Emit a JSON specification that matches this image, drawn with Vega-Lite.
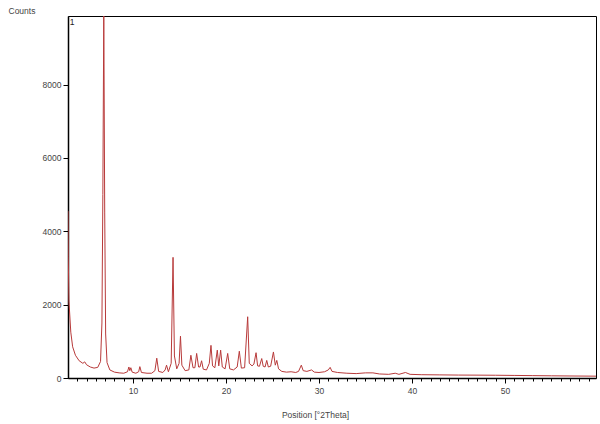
{
  "$schema": "https://vega.github.io/schema/vega-lite/v6.json",
  "width": 528,
  "height": 362,
  "autosize": {"type": "none"},
  "padding": {"left": 68, "top": 16, "right": 4, "bottom": 46},
  "background": "white",
  "config": {
    "view": {"stroke": "#000", "strokeWidth": 1},
    "font": "Liberation Sans",
    "axis": {"labelFont": "Liberation Sans", "titleFont": "Liberation Sans", "labelFontSize": 8.5, "titleFontSize": 8.5, "labelColor": "#444", "titleColor": "#444", "titleFontWeight": "normal", "domainColor": "#000", "tickColor": "#000", "grid": false}
  },
  "datasets": {
    "xrd": [
      {"t": 3.0, "c": 4550}, {"t": 3.03, "c": 3300}, {"t": 3.1, "c": 2100}, {"t": 3.3, "c": 1250},
      {"t": 3.5, "c": 850}, {"t": 3.8, "c": 620}, {"t": 4.2, "c": 470}, {"t": 4.6, "c": 400},
      {"t": 4.8, "c": 440}, {"t": 5.0, "c": 360}, {"t": 5.4, "c": 300}, {"t": 5.8, "c": 270},
      {"t": 6.2, "c": 290}, {"t": 6.5, "c": 450}, {"t": 6.65, "c": 1500}, {"t": 6.75, "c": 5000},
      {"t": 6.85, "c": 9950}, {"t": 6.95, "c": 4500}, {"t": 7.05, "c": 1200}, {"t": 7.2, "c": 420},
      {"t": 7.5, "c": 220}, {"t": 8.0, "c": 160}, {"t": 8.5, "c": 140}, {"t": 9.0, "c": 130},
      {"t": 9.4, "c": 170}, {"t": 9.55, "c": 300}, {"t": 9.65, "c": 200}, {"t": 9.76, "c": 280},
      {"t": 9.9, "c": 160}, {"t": 10.3, "c": 130}, {"t": 10.6, "c": 170}, {"t": 10.73, "c": 310},
      {"t": 10.9, "c": 150}, {"t": 11.5, "c": 130}, {"t": 12.0, "c": 130}, {"t": 12.35, "c": 200},
      {"t": 12.55, "c": 540}, {"t": 12.75, "c": 180}, {"t": 13.2, "c": 150}, {"t": 13.45, "c": 220},
      {"t": 13.6, "c": 350}, {"t": 13.8, "c": 170}, {"t": 14.1, "c": 400}, {"t": 14.3, "c": 3290},
      {"t": 14.45, "c": 600}, {"t": 14.7, "c": 250}, {"t": 14.95, "c": 400}, {"t": 15.1, "c": 1140},
      {"t": 15.25, "c": 350}, {"t": 15.6, "c": 200}, {"t": 16.0, "c": 220}, {"t": 16.22, "c": 620},
      {"t": 16.45, "c": 280}, {"t": 16.65, "c": 280}, {"t": 16.84, "c": 670}, {"t": 17.05, "c": 300},
      {"t": 17.2, "c": 300}, {"t": 17.37, "c": 470}, {"t": 17.55, "c": 240}, {"t": 17.9, "c": 220},
      {"t": 18.2, "c": 400}, {"t": 18.38, "c": 890}, {"t": 18.55, "c": 330}, {"t": 18.8, "c": 280},
      {"t": 19.06, "c": 760}, {"t": 19.22, "c": 330}, {"t": 19.42, "c": 760}, {"t": 19.6, "c": 300},
      {"t": 19.9, "c": 250}, {"t": 20.18, "c": 670}, {"t": 20.4, "c": 250}, {"t": 20.8, "c": 220},
      {"t": 21.2, "c": 300}, {"t": 21.43, "c": 730}, {"t": 21.65, "c": 270}, {"t": 22.0, "c": 280},
      {"t": 22.33, "c": 1670}, {"t": 22.5, "c": 400}, {"t": 22.8, "c": 330}, {"t": 23.0, "c": 380},
      {"t": 23.23, "c": 690}, {"t": 23.4, "c": 330}, {"t": 23.6, "c": 320}, {"t": 23.84, "c": 530},
      {"t": 24.0, "c": 320}, {"t": 24.2, "c": 300}, {"t": 24.38, "c": 480}, {"t": 24.55, "c": 300},
      {"t": 24.8, "c": 320}, {"t": 25.1, "c": 710}, {"t": 25.3, "c": 350}, {"t": 25.46, "c": 480},
      {"t": 25.65, "c": 250}, {"t": 26.0, "c": 180}, {"t": 26.5, "c": 160}, {"t": 27.0, "c": 170},
      {"t": 27.5, "c": 150}, {"t": 27.8, "c": 180}, {"t": 28.1, "c": 350}, {"t": 28.3, "c": 200},
      {"t": 28.7, "c": 180}, {"t": 29.2, "c": 220}, {"t": 29.5, "c": 160}, {"t": 30.0, "c": 150},
      {"t": 30.6, "c": 170}, {"t": 31.0, "c": 220}, {"t": 31.2, "c": 290}, {"t": 31.4, "c": 180},
      {"t": 32.0, "c": 150}, {"t": 33.0, "c": 130}, {"t": 34.0, "c": 120}, {"t": 35.0, "c": 140},
      {"t": 35.8, "c": 140}, {"t": 36.5, "c": 110}, {"t": 37.5, "c": 100}, {"t": 38.2, "c": 130},
      {"t": 38.6, "c": 100}, {"t": 39.3, "c": 150}, {"t": 39.8, "c": 100}, {"t": 41.0, "c": 90},
      {"t": 43.0, "c": 85}, {"t": 45.0, "c": 80}, {"t": 47.0, "c": 78}, {"t": 49.0, "c": 75},
      {"t": 51.0, "c": 70}, {"t": 53.0, "c": 65}, {"t": 55.0, "c": 60}, {"t": 57.0, "c": 55},
      {"t": 59.8, "c": 50}
    ],
    "tag": [{"t": 3.2, "c": 9870, "label": "1"}]
  },
  "layer": [
    {
      "data": {"name": "xrd"},
      "mark": {"type": "line", "color": "#b83a3a", "strokeWidth": 1, "clip": true},
      "encoding": {
        "x": {"field": "t", "type": "quantitative", "scale": {"domain": [3, 59.8], "nice": false, "zero": false},
          "axis": {"orient": "bottom", "title": "Position [°2Theta]", "values": [10, 20, 30, 40, 50], "format": "d", "tickSize": 5, "labelPadding": 3, "domainWidth": 1.5, "titleX": 247, "titleY": 32, "titleBaseline": "top"}},
        "y": {"field": "c", "type": "quantitative", "scale": {"domain": [0, 9870], "nice": false},
          "axis": {"title": "Counts", "values": [0, 2000, 4000, 6000, 8000], "format": "d", "tickSize": 5, "labelPadding": 2, "domainWidth": 1.5, "titleAngle": 0, "titleX": -60, "titleY": -6, "titleAlign": "left", "titleBaseline": "middle"}}
      }
    },
    {
      "data": {"name": "xrd"},
      "mark": {"type": "point", "opacity": 0},
      "encoding": {
        "x": {"field": "t", "type": "quantitative", "scale": {"domain": [3, 59.8], "nice": false, "zero": false},
          "axis": {"orient": "bottom", "title": null, "values": [4,5,6,7,8,9,11,12,13,14,15,16,17,18,19,21,22,23,24,25,26,27,28,29,31,32,33,34,35,36,37,38,39,41,42,43,44,45,46,47,48,49,51,52,53,54,55,56,57,58,59], "labels": false, "tickSize": 3, "domain": false}},
        "y": {"field": "c", "type": "quantitative", "scale": {"domain": [0, 9870], "nice": false}, "axis": null}
      }
    },
    {
      "data": {"name": "tag"},
      "mark": {"type": "text", "align": "left", "baseline": "top", "fontSize": 8.5, "font": "Liberation Sans", "color": "#222", "dy": 2},
      "encoding": {
        "x": {"field": "t", "type": "quantitative", "axis": null},
        "y": {"field": "c", "type": "quantitative", "axis": null},
        "text": {"field": "label"}
      }
    }
  ],
  "resolve": {"axis": {"x": "independent", "y": "independent"}}
}
